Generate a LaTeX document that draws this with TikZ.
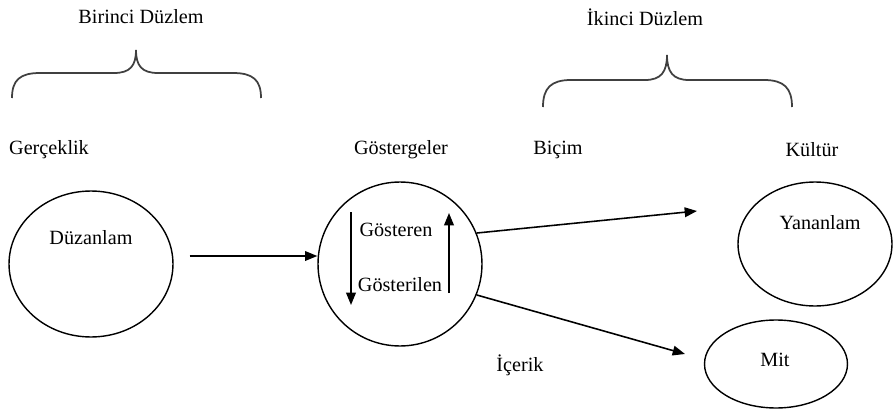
\documentclass[tikz,border=0pt]{standalone}
\usepackage{fontspec}
\setmainfont{Liberation Serif}
\usetikzlibrary{arrows.meta,shapes.geometric}
\begin{document}
\begin{tikzpicture}[x=0.02cm,y=-0.02cm,
    lbl/.style={font=\fontsize{11.5}{13}\selectfont, inner sep=0pt},
    oval/.style={draw, ellipse, line width=0.8pt, inner sep=0pt},
    arr/.style={-{Triangle[length=7pt,width=5.5pt]}, line width=0.9pt},
    brace/.style={line width=1pt, draw=black!75}]
  \useasboundingbox (0,0) rectangle (893,409);

  % planes
  \node[lbl] (birinci) at (141,17) {Birinci Düzlem};
  \node[lbl] (ikinci) at (645,17) {İkinci Düzlem};
  \draw[brace] (12,98) .. controls (12,80) and (20,73) .. (40,73) -- (114,73)
    .. controls (130,73) and (136,66) .. (136,50)
    .. controls (136,66) and (142,73) .. (158,73) -- (233,73)
    .. controls (253,73) and (261,80) .. (261,98);
  \draw[brace] (543,107) .. controls (543,88) and (551,80) .. (571,80) -- (645,80)
    .. controls (661,80) and (667,72) .. (667,55)
    .. controls (667,72) and (673,80) .. (689,80) -- (764,80)
    .. controls (784,80) and (792,88) .. (792,107);

  % headings
  \node[lbl] (gercek) at (49,150) {Gerçeklik};
  \node[lbl] (gosterge) at (401,150) {Göstergeler};
  \node[lbl] (bicim) at (558,150) {Biçim};
  \node[lbl] (kultur) at (812,150) {Kültür};
  \node[lbl] (icerik) at (520,365) {İçerik};

  % shapes
  \node[oval, minimum width=3.28cm, minimum height=2.92cm] (duz) at (91,264) {};
  \node[draw, circle, line width=0.8pt, minimum size=3.28cm] (gos) at (400,264) {};
  \node[oval, minimum width=3.08cm, minimum height=2.48cm] (yan) at (815,244) {};
  \node[oval, minimum width=2.86cm, minimum height=1.76cm] (mit) at (776,364) {};

  \node[lbl] (duztxt) at (91,238) {Düzanlam};
  \node[lbl] (gosteren) at (396,230) {Gösteren};
  \node[lbl] (gosterilen) at (400,285) {Gösterilen};
  \node[lbl] (yantxt) at (820,223) {Yananlam};
  \node[lbl] (mittxt) at (775,360) {Mit};

  % arrows
  \coordinate (yanin) at (697,211);
  \coordinate (mitin) at (685,354);
  \coordinate (downtop) at (351,212);
  \coordinate (downbot) at (351,305);
  \coordinate (upbot) at (449,293);
  \coordinate (uptop) at (449,213);
  \draw[arr] ([xshift=.32cm,yshift=.16cm]duz.east) -- ([yshift=.16cm]gos.west);
  \draw[arr] (gos.22) -- (yanin);
  \draw[arr] (gos.-22) -- (mitin);
  \draw[arr] (downtop) -- (downbot);
  \draw[arr] (upbot) -- (uptop);
\end{tikzpicture}
\end{document}
